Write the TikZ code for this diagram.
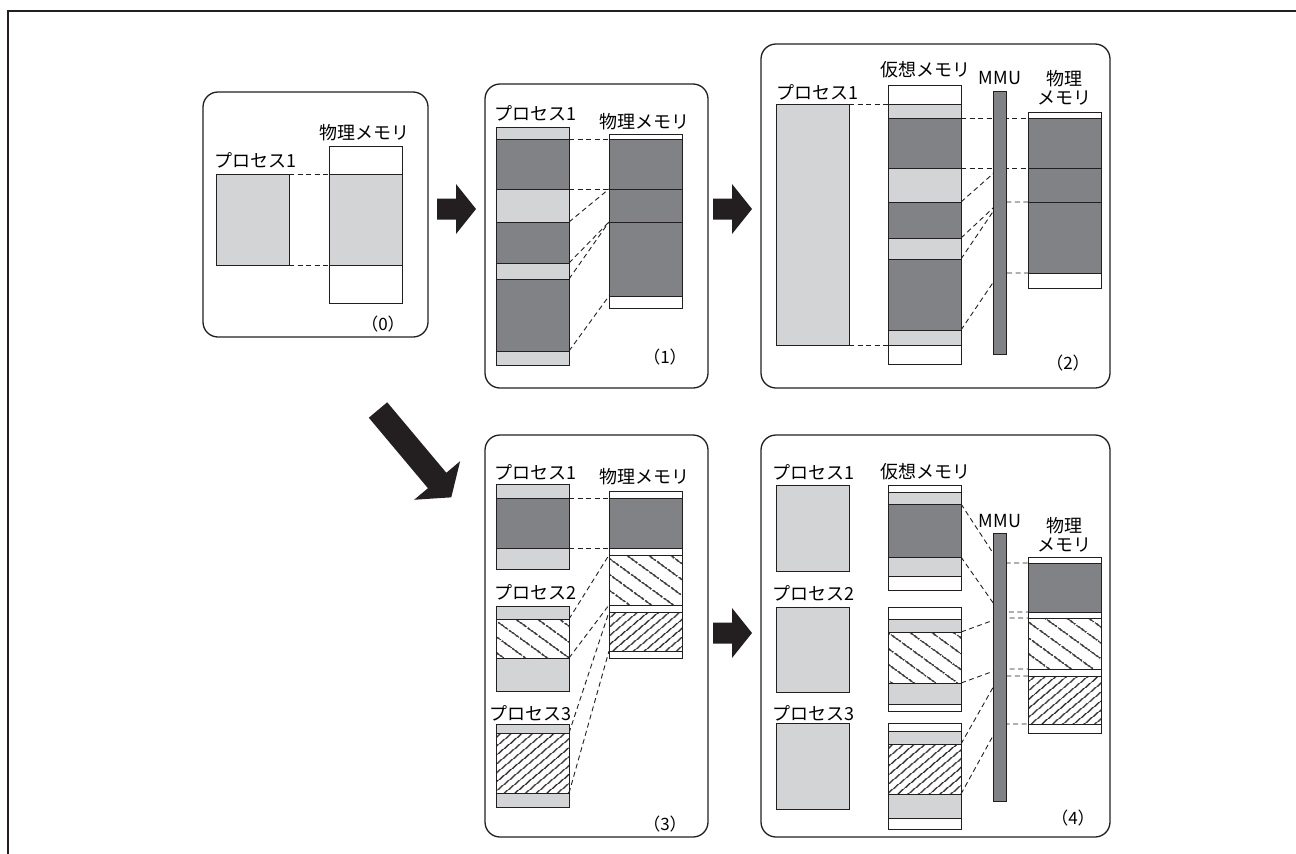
\documentclass[tikz,border=0pt]{standalone}
\usepackage{fontspec}
\newfontfamily\jpfont{Noto Sans CJK JP}
\usetikzlibrary{patterns.meta,backgrounds}
\definecolor{inkblack}{HTML}{231F20}
\definecolor{memlight}{HTML}{D3D4D6}
\definecolor{memdark}{HTML}{808285}
\tikzset{
  panel/.style={draw=inkblack, line width=1.3pt, rounded corners=15pt},
  seg/.style={draw=inkblack, line width=1pt, minimum width=73pt, minimum height=#1,
              inner sep=0pt, outer sep=0pt, anchor=north west},
  freeseg/.style={seg=#1, fill=white},
  lightseg/.style={seg=#1, fill=memlight},
  darkseg/.style={seg=#1, fill=memdark},
  sparsehatch/.style={seg=#1, pattern={Lines[angle=-36, distance=13pt, line width=1.4pt]}, pattern color=inkblack},
  densehatch/.style={seg=#1, pattern={Lines[angle=40, distance=6.5pt, line width=1.2pt]}, pattern color=inkblack},
  mmubar/.style={draw=inkblack, line width=1pt, fill=memdark, minimum width=13pt, minimum height=#1,
                 inner sep=0pt, outer sep=0pt, anchor=north west},
  lbl/.style={font=\jpfont\fontsize{18}{21}\selectfont, inner sep=0pt, anchor=west},
  stacklbl/.style={font=\jpfont\fontsize{18}{19}\selectfont, inner sep=0pt, align=center},
  tag/.style={font=\jpfont\fontsize{17}{20}\selectfont, inner sep=0pt},
  link/.style={draw=inkblack, line width=0.9pt, dash pattern=on 5pt off 3.5pt},
  blockarrow/.style={fill=inkblack},
}
\begin{document}
\begin{tikzpicture}[x=1pt, y=-1pt]
  \useasboundingbox (0,0) rectangle (1296,854);
  \draw[inkblack, line width=2.5pt] (8,854) -- (8,11) -- (1296,11);

  \draw[panel] (203,92) rectangle (428,337);
  \node[lbl] (l0p) at (214,160) {プロセス1};
  \node[lbl] (l0m) at (319,133) {物理メモリ};
  \node[lightseg=91pt] (p0) at (216,174) {};
  \node[freeseg=28pt] (m0a) at (329,146) {};
  \node[lightseg=91pt] (m0b) at (329,174) {};
  \node[freeseg=38pt] (m0c) at (329,265) {};
  \node[tag] (t0) at (383,324) {（0）};

  \draw[panel] (485,84) rectangle (708,388);
  \node[lbl] (l1p) at (494,113) {プロセス1};
  \node[lbl] (l1m) at (599,122) {物理メモリ};
  \node[lightseg=12pt] (p1a) at (496,127) {};
  \node[darkseg=50pt] (p1b) at (496,139) {};
  \node[lightseg=33pt] (p1c) at (496,189) {};
  \node[darkseg=41pt] (p1d) at (496,222) {};
  \node[lightseg=16pt] (p1e) at (496,263) {};
  \node[darkseg=72pt] (p1f) at (496,279) {};
  \node[lightseg=14pt] (p1g) at (496,351) {};
  \node[freeseg=5pt] (m1a) at (609,134) {};
  \node[darkseg=50pt] (m1b) at (609,139) {};
  \node[darkseg=33pt] (m1c) at (609,189) {};
  \node[darkseg=74pt] (m1d) at (609,222) {};
  \node[freeseg=12pt] (m1e) at (609,296) {};
  \node[tag] (t1) at (665,357) {（1）};

  \draw[panel] (761,44) rectangle (1110,388);
  \node[lbl] (l2p) at (776,92) {プロセス1};
  \node[lbl] (l2v) at (880,70) {仮想メモリ};
  \node[lbl, anchor=center] (l2u) at (1000,78) {MMU};
  \node[stacklbl] (l2m) at (1064,88) {物理\\メモリ};
  \node[lightseg=241pt] (p2) at (776,104) {};
  \node[freeseg=19pt] (v2a) at (888,85) {};
  \node[lightseg=14pt] (v2b) at (888,104) {};
  \node[darkseg=50pt] (v2c) at (888,118) {};
  \node[lightseg=34pt] (v2d) at (888,168) {};
  \node[darkseg=36pt] (v2e) at (888,202) {};
  \node[lightseg=21pt] (v2f) at (888,238) {};
  \node[darkseg=71pt] (v2g) at (888,259) {};
  \node[lightseg=15pt] (v2h) at (888,330) {};
  \node[freeseg=19pt] (v2i) at (888,345) {};
  \node[mmubar=263pt] (u2) at (993,91) {};
  \node[freeseg=6pt] (m2a) at (1028,112) {};
  \node[darkseg=50pt] (m2b) at (1028,118) {};
  \node[darkseg=34pt] (m2c) at (1028,168) {};
  \node[darkseg=71pt] (m2d) at (1028,202) {};
  \node[freeseg=15pt] (m2e) at (1028,273) {};
  \node[tag] (t2) at (1068,363) {（2）};

  \draw[panel] (485,435) rectangle (708,837);
  \node[lbl] (l3p1) at (494,472) {プロセス1};
  \node[lbl] (l3p2) at (494,592) {プロセス2};
  \node[lbl] (l3p3) at (489,713) {プロセス3};
  \node[lbl] (l3m) at (599,477) {物理メモリ};
  \node[lightseg=14pt] (p3a) at (496,484) {};
  \node[darkseg=50pt] (p3b) at (496,498) {};
  \node[lightseg=21pt] (p3c) at (496,548) {};
  \node[lightseg=13pt] (q3a) at (496,606) {};
  \node[sparsehatch=39pt] (q3b) at (496,619) {};
  \node[lightseg=33pt] (q3c) at (496,658) {};
  \node[lightseg=9pt] (r3a) at (496,724) {};
  \node[densehatch=60pt] (r3b) at (496,733) {};
  \node[lightseg=14pt] (r3c) at (496,793) {};
  \node[freeseg=7pt] (m3a) at (609,491) {};
  \node[darkseg=50pt] (m3b) at (609,498) {};
  \node[freeseg=7pt] (m3c) at (609,548) {};
  \node[sparsehatch=50pt] (m3d) at (609,555) {};
  \node[freeseg=7pt] (m3e) at (609,605) {};
  \node[densehatch=39pt] (m3f) at (609,612) {};
  \node[freeseg=7pt] (m3g) at (609,651) {};
  \node[tag] (t3) at (665,824) {（3）};

  \draw[panel] (761,435) rectangle (1110,837);
  \node[lbl] (l4p1) at (772,472) {プロセス1};
  \node[lbl] (l4p2) at (772,593) {プロセス2};
  \node[lbl] (l4p3) at (772,713) {プロセス3};
  \node[lbl] (l4v) at (880,472) {仮想メモリ};
  \node[lbl, anchor=center] (l4u) at (1000,521) {MMU};
  \node[stacklbl] (l4m) at (1064,535) {物理\\メモリ};
  \node[lightseg=86pt] (p4) at (776,485) {};
  \node[lightseg=85pt] (q4) at (776,607) {};
  \node[lightseg=86pt] (r4) at (776,723) {};
  \node[freeseg=7pt] (v4a) at (888,485) {};
  \node[lightseg=12pt] (v4b) at (888,492) {};
  \node[darkseg=53pt] (v4c) at (888,504) {};
  \node[lightseg=19pt] (v4d) at (888,557) {};
  \node[freeseg=14pt] (v4e) at (888,576) {};
  \node[freeseg=12pt] (w4a) at (888,607) {};
  \node[lightseg=13pt] (w4b) at (888,619) {};
  \node[sparsehatch=51pt] (w4c) at (888,632) {};
  \node[lightseg=21pt] (w4d) at (888,683) {};
  \node[freeseg=7pt] (w4e) at (888,704) {};
  \node[freeseg=8pt] (x4a) at (888,723) {};
  \node[lightseg=13pt] (x4b) at (888,731) {};
  \node[densehatch=50pt] (x4c) at (888,744) {};
  \node[lightseg=24pt] (x4d) at (888,794) {};
  \node[freeseg=11pt] (x4e) at (888,818) {};
  \node[mmubar=268pt] (u4) at (993,533) {};
  \node[freeseg=6pt] (m4a) at (1028,557) {};
  \node[darkseg=49pt] (m4b) at (1028,563) {};
  \node[freeseg=6pt] (m4c) at (1028,612) {};
  \node[sparsehatch=51pt] (m4d) at (1028,618) {};
  \node[freeseg=7pt] (m4e) at (1028,669) {};
  \node[densehatch=48pt] (m4f) at (1028,676) {};
  \node[freeseg=9pt] (m4g) at (1028,724) {};
  \node[tag] (t4) at (1073,818) {（4）};

  \begin{scope}[on background layer]
    \draw[link] (p0.north east) -- (m0b.north west);
    \draw[link] (p0.south east) -- (m0b.south west);
    \draw[link] (p1b.north east) -- (m1b.north west);
    \draw[link] (p1b.south east) -- (m1c.north west);
    \draw[link] (p1d.north east) -- (m1c.north west);
    \draw[link] (p1d.south east) -- (m1d.north west);
    \draw[link] (p1f.north east) -- (m1d.north west);
    \draw[link] (p1f.south east) -- (m1d.south west);
    \draw[link] (p2.north east) -- (v2b.north west);
    \draw[link] (p2.south east) -- (v2i.north west);
    \draw[link] (v2c.north east) -- (m2b.north west);
    \draw[link] (v2c.south east) -- (m2c.north west);
    \draw[link] (v2e.north east) -- (u2.center |- m2c.north west);
    \draw[link] (v2e.south east) -- (u2.center |- m2d.north west) -- (m2d.north west);
    \draw[link] (v2g.north east) -- (u2.center |- m2d.north west);
    \draw[link] (v2g.south east) -- (u2.center |- m2d.south west) -- (m2d.south west);
    \draw[link] (p3b.north east) -- (m3b.north west);
    \draw[link] (p3b.south east) -- (m3b.south west);
    \draw[link] (q3b.north east) -- (m3d.north west);
    \draw[link] (q3b.south east) -- (m3d.south west);
    \draw[link] (r3b.north east) -- (m3f.north west);
    \draw[link] (r3b.south east) -- (m3f.south west);
    \draw[link] (v4c.north east) -- (u4.center |- m4b.north west) -- (m4b.north west);
    \draw[link] (v4c.south east) -- (u4.center |- m4b.south west) -- (m4b.south west);
    \draw[link] (w4c.north east) -- (u4.center |- m4d.north west) -- (m4d.north west);
    \draw[link] (w4c.south east) -- (u4.center |- m4d.south west) -- (m4d.south west);
    \draw[link] (x4c.north east) -- (u4.center |- m4f.north west) -- (m4f.north west);
    \draw[link] (x4c.south east) -- (u4.center |- m4f.south west) -- (m4f.south west);
  \end{scope}

  \fill[blockarrow, shift={(437,209)}] (0,-10.5) -- (19,-10.5) -- (19,-25) -- (39,0) -- (19,25) -- (19,10.5) -- (0,10.5) -- cycle;
  \fill[blockarrow, shift={(713,209)}] (0,-10.5) -- (19,-10.5) -- (19,-25) -- (39,0) -- (19,25) -- (19,10.5) -- (0,10.5) -- cycle;
  \fill[blockarrow, shift={(713,633)}] (0,-10.5) -- (19,-10.5) -- (19,-25) -- (39,0) -- (19,25) -- (19,10.5) -- (0,10.5) -- cycle;
  \fill[blockarrow, shift={(378,410)}, rotate=-50] (0,-12) -- (92,-12) -- (92,-30) -- (114,0) -- (92,30) -- (92,12) -- (0,12) -- cycle;
\end{tikzpicture}
\end{document}
